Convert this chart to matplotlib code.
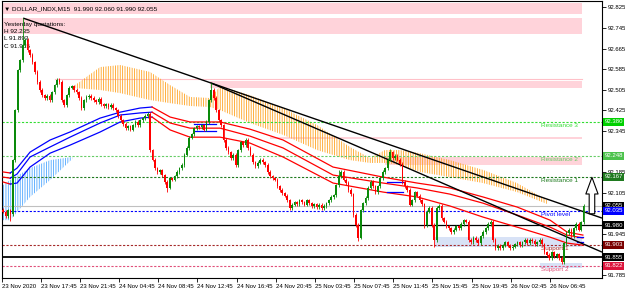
import matplotlib.pyplot as plt
import matplotlib.transforms as mtransforms
import numpy as np

# ---- data (M15 bars, DOLLAR_INDX) ----
closes = [
    92.031, 92.015, 92.038, 92.023, 92.232, 92.426, 92.581, 92.620,
    92.678, 92.698, 92.659, 92.640, 92.612, 92.574, 92.535, 92.504,
    92.484, 92.473, 92.481, 92.465, 92.496, 92.523, 92.543, 92.535,
    92.465, 92.446, 92.484, 92.512, 92.519, 92.504, 92.496, 92.473,
    92.434, 92.465, 92.477, 92.481, 92.473, 92.465, 92.457, 92.469,
    92.449, 92.442, 92.449, 92.438, 92.446, 92.434, 92.426, 92.403,
    92.387, 92.372, 92.356, 92.364, 92.349, 92.368, 92.380, 92.368,
    92.387, 92.395, 92.403, 92.411, 92.271, 92.233, 92.201, 92.186,
    92.193, 92.174, 92.147, 92.124, 92.162, 92.155, 92.170, 92.186,
    92.201, 92.213, 92.252, 92.279, 92.318, 92.333, 92.356, 92.364,
    92.360, 92.368, 92.349, 92.380, 92.465, 92.504, 92.473, 92.426,
    92.387, 92.368, 92.310, 92.279, 92.263, 92.240, 92.252, 92.213,
    92.271, 92.302, 92.290, 92.310, 92.279, 92.252, 92.224, 92.209,
    92.221, 92.233, 92.224, 92.213, 92.186, 92.170, 92.162, 92.155,
    92.131, 92.116, 92.104, 92.093, 92.077, 92.046, 92.058, 92.069,
    92.061, 92.077, 92.069, 92.058, 92.077, 92.065, 92.054, 92.061,
    92.050, 92.058, 92.046, 92.054, 92.065, 92.077, 92.089, 92.096,
    92.135, 92.170, 92.186, 92.155, 92.143, 92.116, 92.100, 92.019,
    91.980, 91.930, 92.038, 92.065, 92.085, 92.124, 92.147, 92.131,
    92.108, 92.131, 92.162, 92.186, 92.201, 92.233, 92.263, 92.240,
    92.248, 92.233, 92.217, 92.147, 92.131, 92.116, 92.058, 92.077,
    92.108, 92.093, 92.077, 92.061, 91.980, 92.031, 92.046, 91.980,
    91.922, 92.046, 92.054, 92.007, 91.992, 91.976, 91.968, 91.953,
    91.961, 91.976, 91.968, 91.984, 91.999, 91.992, 91.922, 91.914,
    91.930, 91.922, 91.910, 91.937, 91.953, 91.968, 91.984, 91.992,
    91.922, 91.891, 91.899, 91.891, 91.902, 91.914, 91.899, 91.891,
    91.895, 91.906, 91.914, 91.902, 91.914, 91.922, 91.910, 91.922,
    91.918, 91.906, 91.914, 91.922, 91.906, 91.875, 91.864, 91.852,
    91.875, 91.860, 91.867, 91.852, 91.836, 91.910, 91.949, 91.961,
    91.937, 91.968, 91.984, 91.961, 91.990, 92.055,
]
first_open = 92.040
spike_highs = {8: 92.783, 85: 92.531, 137: 92.195, 158: 92.275, 237: 92.060}
spike_lows = {3: 91.995, 67: 92.108, 145: 91.918, 172: 91.970, 176: 91.895, 228: 91.829}

# moving-average band (three lines) read at knots: bar, upper, middle, lower
band_bars = [0, 2.9, 5.7, 11, 19.2, 27.3, 39.6, 47.8, 55.9, 60.8,
             68.2, 76.3, 88.6, 100.8, 114.3, 134.7, 155.1, 169, 182.4,
             195.9, 209.8, 223.3, 230.2, 236.7]
band_up = [92.186, 92.182, 92.201, 92.263, 92.310, 92.341, 92.395, 92.418, 92.434, 92.438,
           92.399, 92.380, 92.380, 92.352, 92.310, 92.205, 92.166, 92.143, 92.124,
           92.089, 92.050, 91.999, 91.953, 91.941]
band_mid = [92.166, 92.162, 92.178, 92.244, 92.283, 92.321, 92.376, 92.407, 92.415, 92.418,
            92.376, 92.356, 92.356, 92.325, 92.279, 92.174, 92.143, 92.124, 92.100,
            92.065, 92.019, 91.972, 91.941, 91.930]
band_low = [92.147, 92.139, 92.143, 92.205, 92.259, 92.290, 92.341, 92.380, 92.395, 92.399,
            92.349, 92.321, 92.321, 92.298, 92.244, 92.143, 92.108, 92.089, 92.054,
            92.011, 91.972, 91.933, 91.910, 91.902]
band_blue_from, band_blue_to = 2.9, 60.8
band_flat = [(78, 87, 92.372), (78, 87, 92.345), (156.7, 163.3, 92.147),
             (156.7, 163.3, 92.108), (234.3, 236.7, 91.934), (234.3, 236.7, 91.914)]

# cloud (hatched) knots: bar, top, bottom
cloud_blue_bars = [0, 2.9, 11, 19.2, 28.2]
cloud_blue_top = [92.135, 92.155, 92.201, 92.232, 92.244]
cloud_blue_bot = [91.999, 91.999, 92.089, 92.155, 92.236]
cloud_orange_bars = [29.4, 39.6, 47.8, 60, 68.2, 76.3, 84.5, 88.6, 100.8, 114.3,
                     128.2, 141.6, 149.8, 155.9, 162, 170.2, 182.4, 195.9, 209.8, 222.0]
cloud_orange_top = [92.523, 92.593, 92.601, 92.574, 92.523, 92.477, 92.473, 92.519, 92.484, 92.434,
                    92.368, 92.283, 92.240, 92.271, 92.271, 92.259, 92.232, 92.194, 92.143, 92.077]
cloud_orange_bot = [92.512, 92.504, 92.492, 92.465, 92.453, 92.442, 92.438, 92.426, 92.376, 92.330,
                    92.271, 92.232, 92.221, 92.221, 92.213, 92.186, 92.166, 92.143, 92.108, 92.062]

# trend lines: (bar, price) -> (bar, price)
trend_lines = [((8.2, 92.783), (244.5, 92.007)), ((84.9, 92.531), (244.5, 91.875))]

# levels
levels = {'Resistance 3': 92.380, 'Resistance 2': 92.248, 'Resistance 1': 92.167,
          'Pivot level': 92.035, 'Support 1': 91.903, 'Support 2': 91.822}
bid_price = 92.055
black_levels = [91.980, 91.855]

# zones: (bar_from, bar_to, price_low, price_high)
pink_zones = [(-1, 236.3, 92.799, 92.841), (-1, 236.3, 92.721, 92.783),
              (84.5, 236.3, 92.512, 92.539), (109, 236.3, 92.314, 92.321),
              (156, 236.3, 92.213, 92.244)]
pink_line = (21, 236.3, 92.546)
blue_zones = [(176.3, 236.3, 91.895, 91.934), (219, 236.3, 91.813, 91.833)]

arrow_bar, arrow_from, arrow_to = 240.4, 92.013, 92.176

time_labels = ['23 Nov 2020', '23 Nov 17:45', '23 Nov 21:45', '24 Nov 04:45', '24 Nov 08:45',
               '24 Nov 12:45', '24 Nov 16:45', '24 Nov 20:45', '25 Nov 03:45', '25 Nov 07:45',
               '25 Nov 11:45', '25 Nov 15:45', '25 Nov 19:45', '26 Nov 02:45', '26 Nov 06:45']
price_ticks = [92.825, 92.745, 92.665, 92.585, 92.505, 92.425, 92.345, 92.265,
               92.185, 92.105, 92.025, 91.945, 91.865, 91.785]
hidden_ticks = [92.265, 92.025, 91.865]   # covered by the price boxes in the reference

yesterday = ['Yesterday quotations:', 'H 92.235', 'L 91.893', 'C 91.965']
header = '\u25bc DOLLAR_INDX,M15  91.990 92.060 91.990 92.055'

# ---- figure ----
plt.rcParams['font.family'] = ['Liberation Sans', 'DejaVu Sans']
plt.rcParams['hatch.linewidth'] = 0.6

fig = plt.figure(figsize=(6.25, 2.92), dpi=100)
ax = fig.add_axes([2 / 625, 14 / 292, 600 / 625, 277 / 292])
ax.set_xlim(-0.45, 244.5)
ax.set_ylim(91.7745, 92.8494)

GREEN = '#0a8a0a'
RED = '#ff0000'
PINK = '#ffd3da'
LBLUE = '#d8e2f6'

for x0, x1, lo, hi in pink_zones:
    ax.fill_between([x0, x1], lo, hi, color=PINK, lw=0, zorder=1)
ax.plot([pink_line[0], pink_line[1]], [pink_line[2]] * 2, color='#ffc0c8', lw=0.8, zorder=1)
for x0, x1, lo, hi in blue_zones:
    ax.fill_between([x0, x1], lo, hi, color=LBLUE, lw=0, zorder=1)

# cloud
ax.fill_between(cloud_blue_bars, cloud_blue_top, cloud_blue_bot, facecolor='none',
                edgecolor='#4da6ff', hatch='|' * 7, lw=0, zorder=2)
ax.fill_between(cloud_orange_bars, cloud_orange_top, cloud_orange_bot, facecolor='none',
                edgecolor='#ffa21f', hatch='|' * 7, lw=0, zorder=2)

# levels
level_style = {'Resistance 3': ('#33dd33', '#00e000'), 'Resistance 2': ('#66cc66', '#4cc24c'),
               'Resistance 1': ('#1f7a1f', '#1f7a1f'), 'Pivot level': ('#0000ff', '#0000ff'),
               'Support 1': ('#a52a2a', '#7a0000'), 'Support 2': ('#e0507a', '#dc143c')}
for name, price in levels.items():
    lc, bc = level_style[name]
    ax.axhline(price, color=lc, lw=0.8, ls=(0, (2, 1.5)), zorder=2)
    ax.text(219.6, price - 0.003, name, color=lc, fontsize=4.6, va='top', ha='left', zorder=3)
ax.axhline(bid_price, color='#c0c0c0', lw=0.8, zorder=2)
ax.axhline(black_levels[0], color='black', lw=0.9, zorder=2)
ax.axhline(black_levels[1], color='black', lw=1.3, zorder=2)

# band lines
bb = np.array(band_bars)
for vals in (band_up, band_mid, band_low):
    v = np.array(vals)
    m_red1 = bb <= band_blue_from
    m_blue = (bb >= band_blue_from) & (bb <= band_blue_to)
    m_red2 = bb >= band_blue_to
    ax.plot(bb[m_red1], v[m_red1], color='red', lw=0.9, zorder=4)
    ax.plot(bb[m_blue], v[m_blue], color='#0000ff', lw=0.9, zorder=4)
    ax.plot(bb[m_red2], v[m_red2], color='red', lw=0.9, zorder=4)
for x0, x1, p in band_flat:
    ax.plot([x0, x1], [p, p], color='#0000ff', lw=0.9, zorder=4)

# trend lines
for (x0, y0), (x1, y1) in trend_lines:
    ax.plot([x0, x1], [y0, y1], color='black', lw=1.0, zorder=4, solid_capstyle='butt')

# text (under candles)
fig.text(4 / 625, 1 - 9 / 292, header, fontsize=4.6, va='center', ha='left')
for k, t in enumerate(yesterday):
    ax.text(0.3, 92.760 - 0.029 * k, t, fontsize=4.6, va='center', ha='left', zorder=3)

# candles
c = np.array(closes)
o = np.array([first_open] + closes[:-1])
idx = np.arange(len(c))
hi = np.maximum(o, c) + 0.006
lo = np.minimum(o, c) - 0.006
for k, v in spike_highs.items():
    hi[k] = v
for k, v in spike_lows.items():
    lo[k] = v
cols = [GREEN if cc >= oo else RED for oo, cc in zip(o, c)]
ax.vlines(idx, lo, hi, colors=cols, lw=0.6, zorder=5)
ax.bar(idx, np.maximum(np.abs(c - o), 0.002), bottom=np.minimum(o, c), width=0.7,
       color=cols, lw=0, zorder=5)

# arrow
ax.annotate('', xy=(arrow_bar, arrow_to), xytext=(arrow_bar, arrow_from),
            arrowprops=dict(arrowstyle='simple,head_width=0.55,head_length=0.75,tail_width=0.25',
                            mutation_scale=16, fc='white', ec='black', lw=0.8), zorder=6)

# axes
ax.set_xticks([-0.4] + [16 * k - 0.7 for k in range(1, len(time_labels))])
ax.set_xticklabels(time_labels)
for lab in ax.get_xticklabels():
    lab.set_horizontalalignment('left')
ax.tick_params(axis='x', length=3, width=0.6, pad=1, labelsize=4.3)
ax.yaxis.tick_right()
ax.set_yticks(price_ticks)
ax.set_yticklabels(['' if p in hidden_ticks else f'{p:.3f}' for p in price_ticks])
ax.tick_params(axis='y', length=3, width=0.6, pad=1, labelsize=4.3)
for s in ax.spines.values():
    s.set_linewidth(0.8)

# price boxes on the right axis
box_tr = mtransforms.blended_transform_factory(ax.transAxes, ax.transData)
boxes = [(levels['Resistance 3'], '#00d000'), (levels['Resistance 2'], '#4cc24c'),
         (levels['Resistance 1'], '#1f7a1f'), (bid_price, 'black'),
         (levels['Pivot level'], '#0000ff'), (black_levels[0], 'black'),
         (levels['Support 1'], '#7a0000'), (black_levels[1], 'black'),
         (levels['Support 2'], '#dc143c')]
for p, bc in boxes:
    ax.text(1.004, p, f'{p:.3f}', transform=box_tr, color='white', fontsize=4.3,
            va='center', ha='left', clip_on=False, zorder=10,
            bbox=dict(boxstyle='square,pad=0.25', fc=bc, ec='none'))

fig.savefig('out.png', dpi=100)
